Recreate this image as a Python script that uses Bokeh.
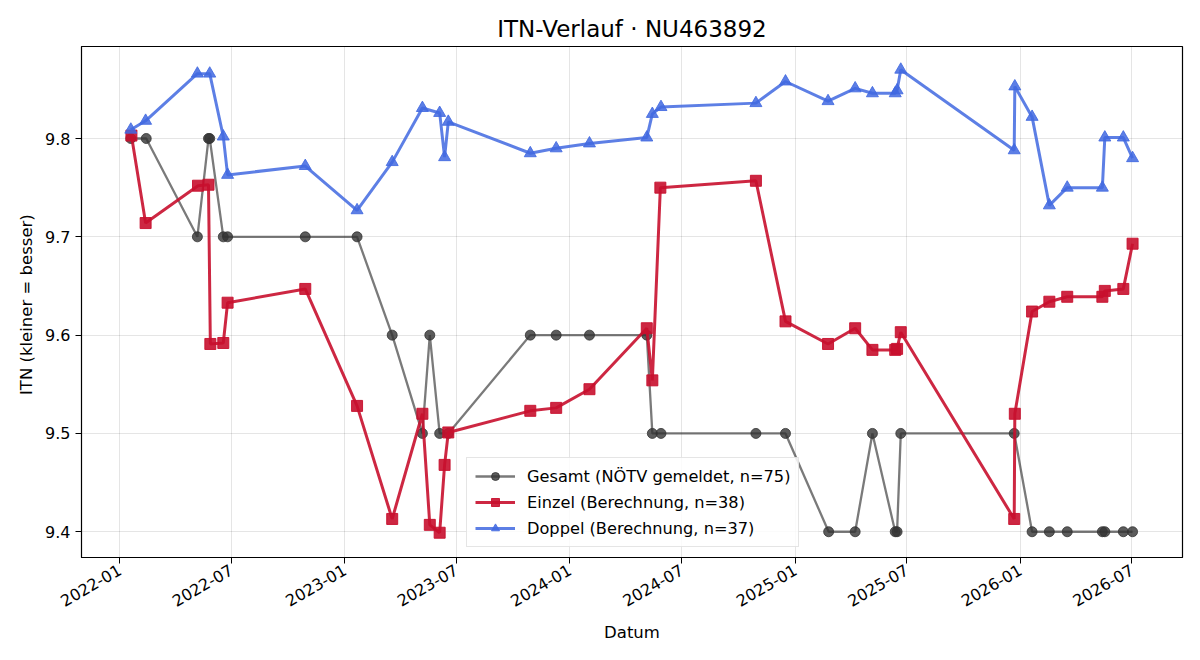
import math
from datetime import datetime
import pandas as pd
from bokeh.plotting import figure
from bokeh.models import (FixedTicker, DatetimeTickFormatter, Legend, LegendItem,
                          Range1d, NumeralTickFormatter)
from bokeh.embed import file_html
from bokeh.resources import INLINE

# ---------------- data ----------------
gesamt_dates = ["2022-01-19", "2022-02-13", "2022-05-07", "2022-05-25", "2022-05-27",
                "2022-06-18", "2022-06-25", "2022-10-29", "2023-01-21", "2023-03-19",
                "2023-05-07", "2023-05-19", "2023-06-04", "2023-06-18", "2023-10-29",
                "2023-12-10", "2024-02-02", "2024-05-05", "2024-05-14", "2024-05-28",
                "2024-10-29", "2024-12-16", "2025-02-24", "2025-04-08", "2025-05-06",
                "2025-06-12", "2025-06-15", "2025-06-21", "2025-12-22", "2026-01-20",
                "2026-02-17", "2026-03-18", "2026-05-14", "2026-05-18", "2026-06-17",
                "2026-07-02"]
gesamt_itn = [9.8, 9.8, 9.7, 9.8, 9.8,
              9.7, 9.7, 9.7, 9.7, 9.6,
              9.5, 9.6, 9.5, 9.5, 9.6,
              9.6, 9.6, 9.6, 9.5, 9.5,
              9.5, 9.5, 9.4, 9.4, 9.5,
              9.4, 9.4, 9.5, 9.5, 9.4,
              9.4, 9.4, 9.4, 9.4, 9.4,
              9.4]

einzel_dates = ["2022-01-20", "2022-02-12", "2022-05-08", "2022-05-25", "2022-05-28",
                "2022-06-18", "2022-06-25", "2022-10-29", "2023-01-21", "2023-03-19",
                "2023-05-07", "2023-05-19", "2023-06-04", "2023-06-12", "2023-06-18",
                "2023-10-29", "2023-12-10", "2024-02-02", "2024-05-05", "2024-05-14",
                "2024-05-27", "2024-10-29", "2024-12-16", "2025-02-23", "2025-04-08",
                "2025-05-06", "2025-06-12", "2025-06-15", "2025-06-21", "2025-12-22",
                "2025-12-23", "2026-01-20", "2026-02-17", "2026-03-18", "2026-05-14",
                "2026-05-18", "2026-06-17", "2026-07-02"]
einzel_itn = [9.803, 9.714, 9.752, 9.753, 9.591,
              9.592, 9.633, 9.647, 9.528, 9.413,
              9.520, 9.407, 9.399, 9.468, 9.501,
              9.523, 9.526, 9.545, 9.607, 9.554,
              9.750, 9.757, 9.614, 9.591, 9.607,
              9.585, 9.585, 9.586, 9.603, 9.413,
              9.520, 9.624, 9.634, 9.639, 9.639,
              9.645, 9.647, 9.693]

doppel_dates = ["2022-01-19", "2022-02-12", "2022-05-07", "2022-05-27", "2022-06-18",
                "2022-06-25", "2022-10-29", "2023-01-21", "2023-03-19", "2023-05-07",
                "2023-06-04", "2023-06-12", "2023-06-18", "2023-10-29", "2023-12-10",
                "2024-02-02", "2024-05-05", "2024-05-14", "2024-05-28", "2024-10-29",
                "2024-12-16", "2025-02-23", "2025-04-08", "2025-05-06", "2025-06-12",
                "2025-06-15", "2025-06-21", "2025-12-22", "2025-12-23", "2026-01-20",
                "2026-02-17", "2026-03-18", "2026-05-14", "2026-05-18", "2026-06-17",
                "2026-07-02"]
doppel_itn = [9.809, 9.818, 9.866, 9.866, 9.802,
              9.763, 9.772, 9.727, 9.776, 9.831,
              9.826, 9.781, 9.817, 9.785, 9.790,
              9.795, 9.801, 9.825, 9.832, 9.836,
              9.858, 9.838, 9.851, 9.846, 9.846,
              9.849, 9.870, 9.788, 9.853, 9.822,
              9.732, 9.750, 9.750, 9.801, 9.801,
              9.780]

x_tick_labels = ["2022-01", "2022-07", "2023-01", "2023-07", "2024-01",
                 "2024-07", "2025-01", "2025-07", "2026-01", "2026-07"]
y_ticks = [9.4, 9.5, 9.6, 9.7, 9.8]

labels = ["Gesamt (NÖTV gemeldet, n=75)", "Einzel (Berechnung, n=38)",
          "Doppel (Berechnung, n=37)"]
title = "ITN-Verlauf · NU463892"

# ---------------- figure ----------------
FONT = "DejaVu Sans"

p = figure(width=1200, height=660, x_axis_type="datetime",
           output_backend="svg", toolbar_location=None,
           x_range=Range1d(datetime(2021, 10, 31), datetime(2026, 9, 21)),
           y_range=Range1d(9.3738, 9.8936),
           min_border_left=81, min_border_right=18,
           min_border_top=46, min_border_bottom=103)
p.background_fill_color = "white"
p.border_fill_color = "white"
p.outline_line_color = "black"
p.outline_line_width = 1.2

p.title.text = title
p.title.align = "center"
p.title.text_font = FONT
p.title.text_font_size = "23px"
p.title.text_font_style = "normal"
p.title.text_color = "black"

gd = pd.to_datetime(gesamt_dates)
ed = pd.to_datetime(einzel_dates)
dd = pd.to_datetime(doppel_dates)

gray = "#333333"
red = "#C8102E"
blue = "#4169E1"

g_line = p.line(gd, gesamt_itn, line_color=gray, line_alpha=0.65, line_width=2.3)
g_pts = p.scatter(gd, gesamt_itn, marker="circle", size=10, fill_color=gray,
                  line_color=gray, fill_alpha=0.8, line_alpha=0.8)

e_line = p.line(ed, einzel_itn, line_color=red, line_alpha=0.9, line_width=3)
e_pts = p.scatter(ed, einzel_itn, marker="square", size=11, fill_color=red,
                  line_color=red, fill_alpha=0.9, line_alpha=0.9)

d_line = p.line(dd, doppel_itn, line_color=blue, line_alpha=0.85, line_width=3)
d_pts = p.scatter(dd, doppel_itn, marker="triangle", size=12, fill_color=blue,
                  line_color=blue, fill_alpha=0.85, line_alpha=0.85)

# axes
xt = [pd.Timestamp(t + "-01").value / 1e6 for t in x_tick_labels]
p.xaxis.ticker = FixedTicker(ticks=xt)
fmt = "%Y-%m"
p.xaxis.formatter = DatetimeTickFormatter(
    microseconds=fmt, milliseconds=fmt, seconds=fmt, minsec=fmt, minutes=fmt,
    hourmin=fmt, hours=fmt, days=fmt, months=fmt, years=fmt)
p.xaxis.major_label_orientation = math.pi / 6
p.yaxis.ticker = FixedTicker(ticks=y_ticks)
p.yaxis.formatter = NumeralTickFormatter(format="0.0")

for ax in (p.xaxis, p.yaxis):
    ax.axis_line_color = "black"
    ax.major_tick_line_color = "black"
    ax.major_tick_out = 6
    ax.major_tick_in = 0
    ax.minor_tick_line_color = None
    ax.major_label_text_font = FONT
    ax.major_label_text_font_size = "16px"
    ax.major_label_text_color = "black"
    ax.axis_label_text_font = FONT
    ax.axis_label_text_font_size = "16.5px"
    ax.axis_label_text_font_style = "normal"
    ax.axis_label_text_color = "black"
    ax.major_label_standoff = 5

p.xaxis.axis_label = "Datum"
p.yaxis.axis_label = "ITN  (kleiner = besser)"
p.xaxis.axis_label_standoff = 8
p.yaxis.axis_label_standoff = 6

p.grid.grid_line_color = "black"
p.grid.grid_line_alpha = 0.1
p.xgrid.ticker = FixedTicker(ticks=xt)
p.ygrid.ticker = FixedTicker(ticks=y_ticks)

legend = Legend(items=[
    LegendItem(label=labels[0], renderers=[g_line, g_pts]),
    LegendItem(label=labels[1], renderers=[e_line, e_pts]),
    LegendItem(label=labels[2], renderers=[d_line, d_pts]),
], location=(385, 10))
legend.label_text_font = FONT
legend.label_text_font_size = "16.2px"
legend.label_text_color = "black"
legend.label_height = 20
legend.glyph_height = 20
legend.glyph_width = 40
legend.label_standoff = 12
legend.spacing = 6
legend.padding = 8
legend.margin = 0
legend.border_line_color = "#cccccc"
legend.border_line_width = 1.2
legend.background_fill_alpha = 0.85
p.add_layout(legend)

open("out.html", "w").write(file_html(p, INLINE))
